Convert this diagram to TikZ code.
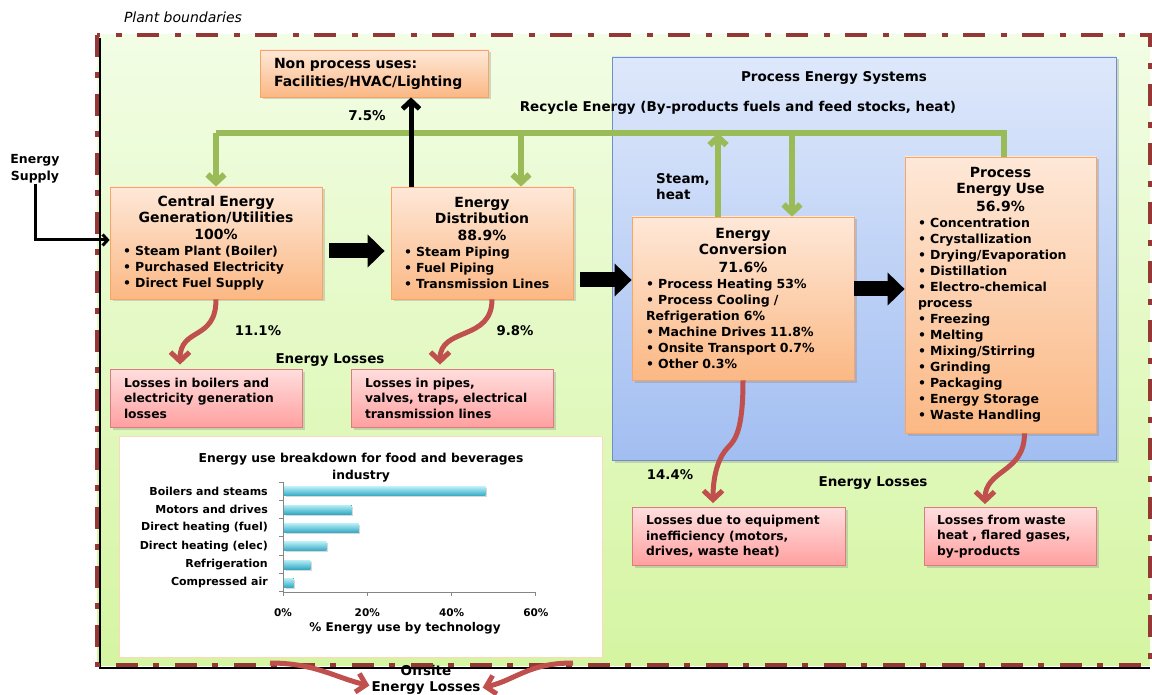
\documentclass[tikz,border=0pt]{standalone}
\usepackage{fontspec}
\setmainfont{DejaVu Sans}
\usetikzlibrary{arrows.meta,shadows}

\definecolor{bordred}{HTML}{953735}
\definecolor{recgreen}{HTML}{9BBB59}
\definecolor{lossred}{HTML}{C0504D}
\definecolor{orgedge}{HTML}{F9A465}
\definecolor{orgtop}{HTML}{FEE8D8}
\definecolor{orgbot}{HTML}{FBB884}
\definecolor{pnktop}{HTML}{FFDEDE}
\definecolor{pnkbot}{HTML}{FFA0A0}
\definecolor{pnkedge}{HTML}{DC7C80}
\definecolor{blutop}{HTML}{DEE8FB}
\definecolor{blubot}{HTML}{A2BEF1}
\definecolor{bluedge}{HTML}{6F90C6}
\definecolor{plttop}{HTML}{F2FDE5}
\definecolor{pltbot}{HTML}{D5F5A2}
\definecolor{bartop}{HTML}{B5EEF6}
\definecolor{barbot}{HTML}{35A9C4}
\definecolor{axisgray}{HTML}{868686}
\definecolor{chartedge}{HTML}{FCD9BC}

\tikzset{
  boxshadow/.style={drop shadow={opacity=0.3,shadow xshift=2.5pt,shadow yshift=-2.5pt}},
  procbox/.style={boxshadow, draw=orgedge, line width=0.8pt, top color=orgtop, bottom color=orgbot,
    align=left, inner ysep=0pt, font=\fontsize{12.5}{16}\selectfont\bfseries},
  lossbox/.style={boxshadow, draw=pnkedge, line width=0.8pt, top color=pnktop, bottom color=pnkbot,
    align=left, inner ysep=0pt, minimum height=58pt, font=\fontsize{12.3}{15.5}\selectfont\bfseries},
  sysbox/.style={boxshadow, draw=bluedge, line width=0.8pt, top color=blutop, bottom color=blubot},
  lbl/.style={inner sep=0pt, align=center, font=\fontsize{13.5}{16}\selectfont\bfseries},
  pct/.style={inner sep=0pt, font=\fontsize{13.3}{16}\selectfont\bfseries},
  bigarrow/.style={line width=15pt, -{Triangle[length=17pt,width=32pt]}},
  recline/.style={recgreen, line width=6pt},
  recarrow/.style={recgreen, line width=6pt, -{Straight Barb[length=8pt,width=17pt]}},
  lossarrow/.style={lossred, line width=5pt, -{Straight Barb[length=9pt,width=19pt]}},
  uparrow/.style={black, line width=5pt, -{Straight Barb[length=8pt,width=17pt]}},
  supplyarrow/.style={black, line width=3pt, -{Straight Barb[length=5pt,width=11pt]}},
  chartlbl/.style={inner sep=0pt, font=\fontsize{11}{13}\selectfont\bfseries},
}
\newcommand{\boxhead}[1]{{\centering\fontsize{14}{16}\selectfont #1\par}}

\begin{document}
\begin{tikzpicture}[x=1pt,y=-1pt]
\useasboundingbox (0,0) rectangle (1152,695);
% plant area
\fill[top color=plttop, bottom color=pltbot] (97,35) rectangle (1150,665);
\node[inner sep=0pt, font=\fontsize{14}{16}\selectfont\itshape] (plant) at (183,17) {Plant boundaries};

% process energy systems
\node[sysbox, minimum width=504pt, minimum height=403pt] (pes) at (864,258.5) {};
\node[lbl] (pestitle) at (834,78) {Process Energy Systems};
\node[lbl] (recycle) at (738,108) {Recycle Energy (By-products fuels and feed stocks, heat)};
\coordinate (recy) at (0,133);

% boxes
\node[procbox, text width=200pt, inner xsep=14pt, minimum height=47pt,
      font=\fontsize{14}{18}\selectfont\bfseries] (nonproc) at (374,73.5)
  {Non process uses:\\Facilities/HVAC/Lighting};
\node[procbox, text width=186pt, inner xsep=13pt, minimum height=112pt] (central) at (216,243)
  {\boxhead{Central Energy\\Generation/Utilities\\[1pt]100\%}• Steam Plant (Boiler)\\• Purchased Electricity\\• Direct Fuel Supply};
\node[procbox, text width=156pt, inner xsep=13pt, minimum height=112pt] (dist) at (482,243)
  {\boxhead{Energy\\Distribution\\[1pt]88.9\%}• Steam Piping\\• Fuel Piping\\• Transmission Lines};
\node[procbox, text width=194pt, inner xsep=14pt, minimum height=163pt] (conv) at (743,298.5)
  {\boxhead{Energy\\Conversion\\[2pt]71.6\%}• Process Heating 53\%\\• Process Cooling /\\Refrigeration 6\%\\• Machine Drives 11.8\%\\• Onsite Transport 0.7\%\\• Other 0.3\%};
\node[procbox, text width=165pt, inner xsep=13pt, minimum height=276pt] (peu) at (1000.5,295)
  {\boxhead{Process\\Energy Use\\[2pt]56.9\%}• Concentration\\• Crystallization\\• Drying/Evaporation\\• Distillation\\• Electro-chemical\\process\\• Freezing\\• Melting\\• Mixing/Stirring\\• Grinding\\• Packaging\\• Energy Storage\\• Waste Handling};

\node[lossbox, text width=164pt, inner xsep=14pt] (loss1) at (206,398)
  {Losses in boilers and\\electricity generation\\losses};
\node[lossbox, text width=174pt, inner xsep=14pt] (loss2) at (452,398)
  {Losses in pipes,\\valves, traps, electrical\\transmission lines};
\node[lossbox, text width=185pt, inner xsep=14pt] (loss3) at (738.5,536.5)
  {Losses due to equipment\\inefficiency (motors,\\drives, waste heat)};
\node[lossbox, text width=146pt, inner xsep=13pt] (loss4) at (1010,536.5)
  {Losses from waste\\heat , flared gases,\\by-products};

% recycle loop
\draw[recline] ([xshift=3pt]peu.north) -- ([xshift=3pt]peu.north |- recy) -- (central.north |- recy);
\draw[recarrow] (central.north |- recy) -- (central.north);
\draw[recarrow] ([xshift=39pt]dist.north |- recy) -- ([xshift=39pt]dist.north);
\draw[recarrow] ([xshift=49pt]conv.north |- recy) -- ([xshift=49pt]conv.north);
\draw[recarrow] ([xshift=-25pt]conv.north) -- ([xshift=-25pt]conv.north |- recy);
\draw[uparrow] ([xshift=-71pt]dist.north) -- ([xshift=-71pt]dist.north |- nonproc.south);

% main flow
\node[lbl, font=\fontsize{12.5}{17}\selectfont\bfseries] (supply) at (35,169) {Energy\\Supply};
\draw[supplyarrow] (supply.south) |- ([yshift=3pt]central.west);
\draw[bigarrow, shorten <=7pt, shorten >=6pt] ([yshift=-8pt]central.east) -- ([yshift=-8pt]dist.west);
\draw[bigarrow, shorten <=7pt] ([yshift=-37pt]dist.east) -- ([yshift=18.5pt]conv.west);
\draw[bigarrow] ([yshift=9.5pt]conv.east) -- ([yshift=6pt]peu.west);

% losses
\draw[lossarrow, shorten >=4pt] (central.south) .. controls +(0,42) and +(0,-42) .. ([xshift=-26pt]loss1.north);
\draw[lossarrow, shorten >=4pt] ([xshift=10pt]dist.south) .. controls +(0,42) and +(0,-42) .. ([xshift=-12pt]loss2.north);
\draw[lossarrow, shorten >=4pt] (conv.south) .. controls +(0,48) and +(8,-8) .. +(-15,67)
  .. controls +(-8,8) and +(0,-35) .. ([xshift=-25.5pt]loss3.north);
\draw[lossarrow, shorten >=3pt] ([xshift=24pt]peu.south) .. controls +(0,40) and +(0,-38) .. ([xshift=-25pt]loss4.north);

\node[lbl] (pct1) at (367,116) {7.5\%};
\node[lbl, align=left, anchor=west] (steam) at (656,186.5) {Steam,\\heat};
\node[pct] (pct2) at (258,331) {11.1\%};
\node[pct] (pct3) at (515,331) {9.8\%};
\node[pct] (pct4) at (670,475) {14.4\%};
\node[lbl] (eloss1) at (330,360) {Energy Losses};
\node[lbl] (eloss2) at (873,483) {Energy Losses};

% chart
\draw[chartedge, fill=white] (119,436) rectangle (602,657);
\node[chartlbl, align=center, font=\fontsize{12.3}{17}\selectfont\bfseries] (charttitle) at (361,467.5)
  {Energy use breakdown for food and beverages\\industry};
\foreach \lab/\val [count=\i] in {Boilers and steams/48,Motors and drives/16.3,Direct heating (fuel)/18,
    Direct heating (elec)/10.3,Refrigeration/6.5,Compressed air/2.5} {
  \pgfmathsetmacro\yc{491.2+(\i-1)*18.33}
  \node[chartlbl, anchor=east] (cat\i) at (268,\yc) {\lab};
  \fill[top color=bartop, bottom color=barbot, drop shadow={opacity=0.3,shadow xshift=1.5pt,shadow yshift=-1.5pt}]
    (284,\yc-4.5) rectangle (283+\val*4.215,\yc+4.5);
}
\draw[axisgray, line width=1pt] (283,482) -- (283,592) -- (536,592);
\foreach \t in {0,...,6}
  \draw[axisgray, line width=1pt] (279,482+\t*18.33) -- (283,482+\t*18.33);
\foreach \p in {0,20,40,60} {
  \draw[axisgray, line width=1pt] (283+\p*4.215,592) -- (283+\p*4.215,596);
  \node[chartlbl, font=\fontsize{10.5}{12}\selectfont\bfseries] (tick\p) at (283+\p*4.215,613) {\p\%};
}
\node[chartlbl, font=\fontsize{12}{14}\selectfont\bfseries] (xtitle) at (405,628) {\% Energy use by technology};

% offsite losses and plant boundary
\node[lbl] (offsite) at (426,680) {Offsite\\Energy Losses};
\draw[black, line width=2.5pt] (100,38) -- (100,668) -- (1150,668);
\draw[bordred, line width=4.5pt, dash pattern=on 22pt off 15pt on 6pt off 16pt] (97,35) rectangle (1150,665);
\coordinate (offl) at (270,663);
\coordinate (offr) at (573,663);
\draw[lossarrow, shorten >=2pt] (offl) .. controls +(45,0) and +(-35,-8) .. ([yshift=-6pt]offsite.west);
\draw[lossarrow, shorten >=2pt] (offr) .. controls +(-45,0) and +(35,-8) .. ([yshift=-8pt]offsite.east);
\end{tikzpicture}
\end{document}
